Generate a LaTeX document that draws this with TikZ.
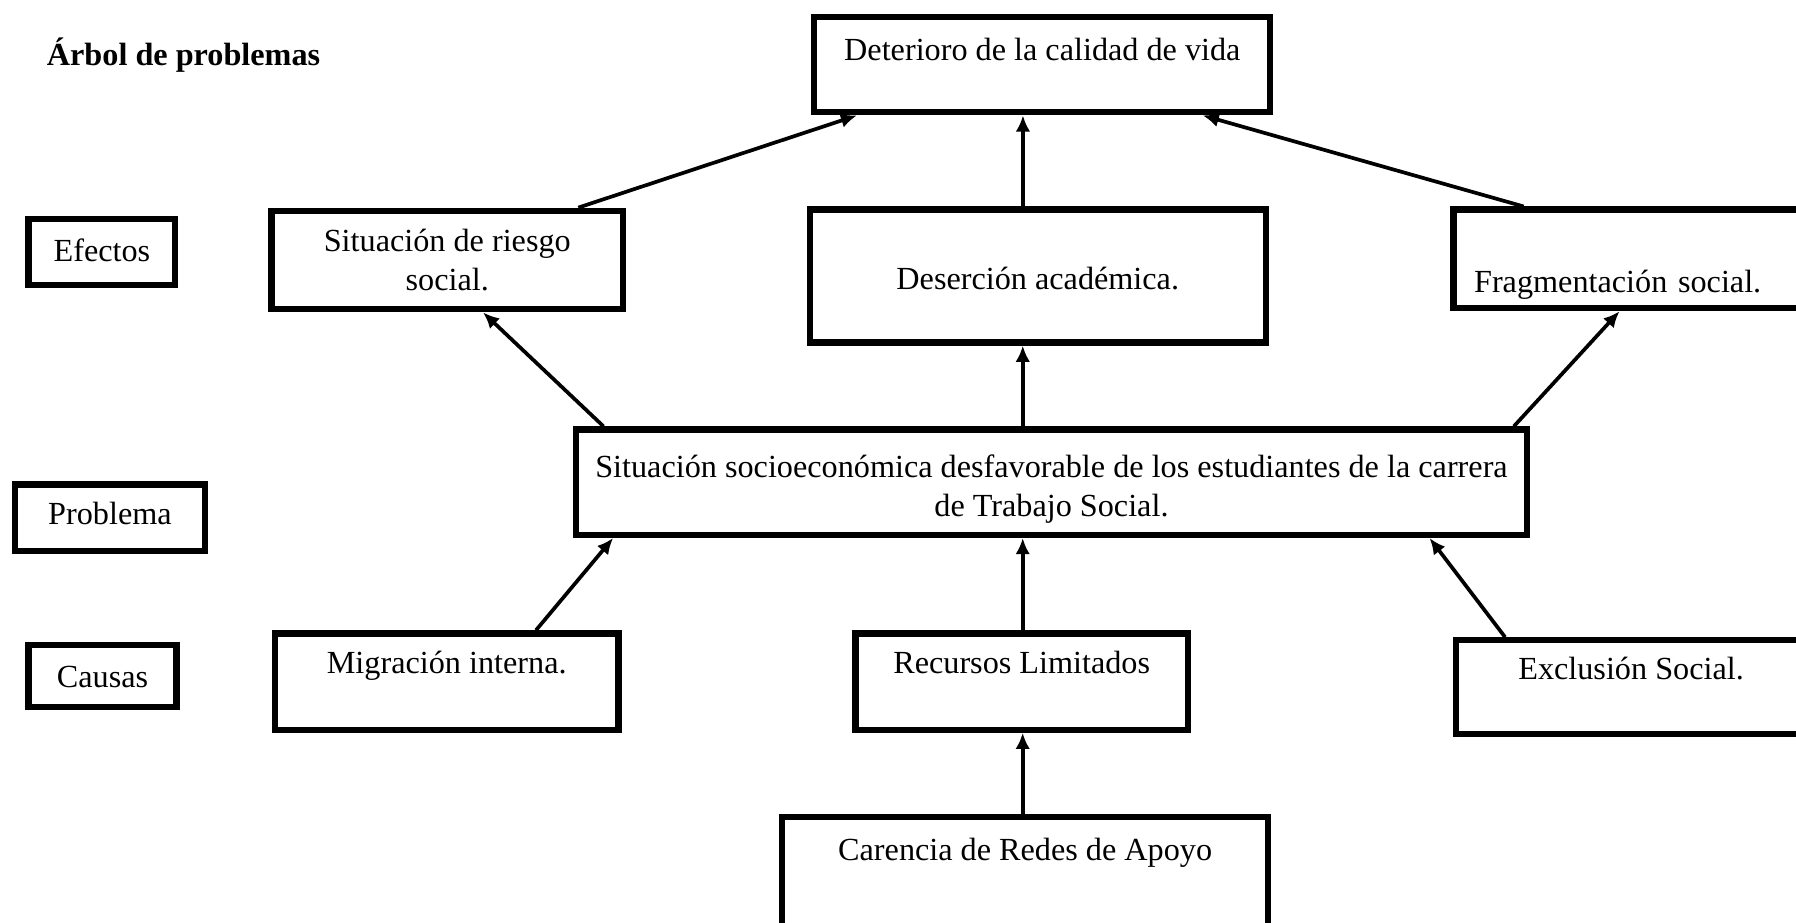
\documentclass[tikz,border=0pt]{standalone}
\usepackage{fontspec}
\setmainfont{Liberation Serif}
\usetikzlibrary{arrows.meta,calc}
\tikzset{
    caja/.style={draw, line width=3.9pt, align=center, inner sep=0pt, font=\fontsize{20}{24}\selectfont},
    txt/.style 2 args={text height=#1, text depth=#2},
    flecha/.style={-{Latex[length=10pt,width=9pt]}, line width=2.3pt}
}

\begin{document}
\begin{tikzpicture}[x=0.025cm, y=-0.025cm]
\useasboundingbox (0,0) rectangle (1568,805);

\node[anchor=base west, font=\fontsize{20}{24}\selectfont\bfseries] (titulo) at (36,57) {Árbol de problemas};

% efectos
\node[caja, txt={14pt}{19pt}, minimum width=9.95cm, minimum height=2.075cm] (det) at (910,56.5) {Deterioro de la calidad de vida};
\node[caja, minimum width=7.675cm, minimum height=2.15cm] (riesgo) at (390.5,227) {Situación de riesgo\\social.};
\node[caja, txt={19pt}{2pt}, minimum width=9.95cm, minimum height=2.9cm] (deser) at (906,241) {Deserción académica.};
\node[caja, txt={45pt}{3.7pt}, minimum width=7.7cm, minimum height=2.15cm, align=left, inner xsep=0.45cm, text width=6.8cm] (fragm) at (1423,226) {Fragmentación social.};

% etiquetas
\node[caja, txt={14pt}{2.6pt}, minimum width=3.2cm, minimum height=1.45cm] (efectos) at (89,220) {Efectos};
\node[caja, txt={14pt}{5.5pt}, minimum width=4.15cm, minimum height=1.45cm] (problema) at (96,452) {Problema};
\node[caja, txt={16pt}{1.8pt}, minimum width=3.225cm, minimum height=1.35cm] (causas) at (89.5,590) {Causas};

% problema central
\node[caja, txt={46pt}{3.8pt}, minimum width=20.75cm, minimum height=2.3cm] (prob) at (918,421) {Situación socioeconómica desfavorable de los estudiantes de la carrera\\de Trabajo Social.};

% causas
\node[caja, txt={14pt}{24pt}, minimum width=7.5cm, minimum height=2.1cm] (migra) at (390,595) {Migración interna.};
\node[caja, txt={14pt}{24pt}, minimum width=7.25cm, minimum height=2.1cm] (recur) at (892,595) {Recursos Limitados};
\node[caja, txt={14pt}{24pt}, minimum width=7.65cm, minimum height=2.05cm] (exclu) at (1424,600) {Exclusión Social.};
\node[caja, txt={14pt}{41pt}, minimum width=10.6cm, minimum height=2.85cm] (caren) at (895,770) {Carencia de Redes de Apoyo};

% flechas inclinadas
\foreach \a/\fa/\b/\fb in {riesgo/0.866/det/0.099, fragm/0.204/det/0.847, prob/0.032/riesgo/0.60, prob/0.983/fragm/0.471, migra/0.755/prob/0.042, exclu/0.147/prob/0.895}
    \draw[flecha] ($(\a.north west)!\fa!(\a.north east)$) -- ($(\b.south west)!\fb!(\b.south east)$);

% flechas verticales
\foreach \a/\fa/\b in {deser/0.468/det, prob/0.470/deser, recur/0.503/prob, caren/0.495/recur}
    \draw[flecha] ($(\a.north west)!\fa!(\a.north east)$) coordinate (p) -- (p |- \b.south);
\end{tikzpicture}
\end{document}
